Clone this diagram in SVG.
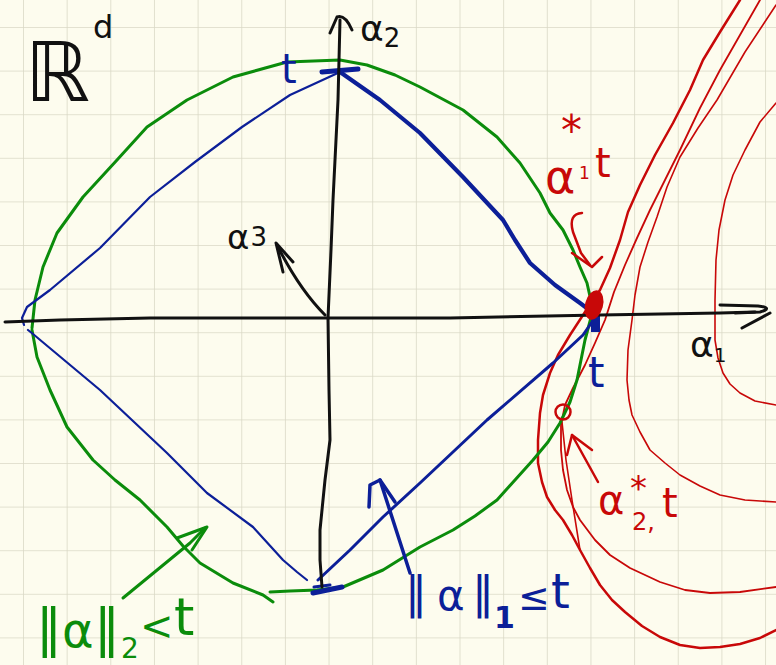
<svg xmlns="http://www.w3.org/2000/svg" width="776" height="665" viewBox="0 0 776 665">
<defs>
<pattern id="grid" x="23" y="27" width="43.65" height="43.6" patternUnits="userSpaceOnUse">
<path d="M0,0 V43.6 M0,0 H43.65" fill="none" stroke="#dad9c6" stroke-width="1.6"/>
</pattern>
<style>
.ink{fill:none;stroke-linecap:round;stroke-linejoin:round}
.k{stroke:#111}
.g{stroke:#0b8c0b}
.b{stroke:#0c1f98}
.r{stroke:#c80808}
.t{font-family:"DejaVu Sans","Liberation Sans",sans-serif}
.tk{fill:#111}.tg{fill:#0b8c0b}.tb{fill:#0c1f98}.tr{fill:#c80808}
</style>
</defs>
<rect width="776" height="665" fill="#fdfcee"/>
<rect width="776" height="665" fill="url(#grid)"/>

<g id="red-contours" class="ink r">
<polyline stroke-width="2.5" points="740,0 720,32 703,60 690,90 673,123 655,155 640,185 628,212 620,240 610,268 600,290 585,312 570,335 558,355 550,373 543,395 540,413 538,440 538,463 542,482 547,497 555,510 563,520 572,535 580,550 590,568 600,585 612,600 625,612 642,626 660,637 680,645 700,648 720,647 740,644 760,638 776,630"/>
<polyline stroke-width="1.8" points="760,0 740,35 720,70 700,108 680,150 665,180 650,210 637,238 625,265 614,292 605,320 595,343 585,365 573,388 565,405 561,425 561,450 563,470 567,490 573,507 580,520 595,540 610,555 630,568 660,582 685,590 710,593 740,592 776,587"/>
<polyline stroke-width="1.6" points="562,422 566,460 572,500 580,550"/>
<polyline stroke-width="1.6" points="776,5 745,52 717,100 698,128 680,157 667,187 657,217 648,242 640,267 635,295 632,320 628,350 627,380 629,400 632,415 640,432 650,450 665,463 680,475 700,486 720,495 745,500 776,502"/>
<polyline stroke-width="1.6" points="776,103 760,122 745,150 733,175 725,200 719,230 716,260 715,300 715,340 718,358 723,373 730,384 740,393 755,401 776,405"/>
</g>

<g id="green-l2-ball" class="ink g">
<polyline stroke-width="3" points="32,328 35,300 43,267 57,233 83,197 117,160 147,127 187,100 233,77 287,62 340,60 367,65 395,75 420,87 463,110 497,137 520,163 540,193 550,213 563,230 573,250 580,267 587,283 593,310 589,325 585,340 581,360 577,380 570,402 560,423 548,442 533,460 515,480 497,500 475,516 453,530 420,547 383,570 343,587 317,590 290,591 270,592"/>
<polyline stroke-width="3" points="273,602 263,595 233,583 200,563 183,546 167,527 140,500 115,480 93,460 67,427 50,390 37,357 32,330"/>
</g>

<g id="blue-l1-ball" class="ink b">
<polyline stroke-width="2.2" points="340,72 290,95 242,127 195,162 150,197 100,248 50,290 27,307 22,318 24,325"/>
<polyline stroke-width="4.2" points="340,72 380,100 420,133 463,177 503,220 515,240 530,263 555,285 580,303 592,312"/>
<polyline stroke-width="2.2" points="28,330 33,334 100,390 167,453 207,493 253,527 283,560 297,572 307,580"/>
<polyline stroke-width="3" points="318,580 350,550 383,517 420,483 487,420 553,363 583,335 592,322"/>
<path stroke-width="5" d="M322,72 L358,69"/>
<path stroke-width="5" d="M313,593 L342,587"/>
<path stroke-width="3" d="M314,587 L330,585"/>
<rect x="591" y="314" width="9" height="18" fill="#0c1f98" stroke="none"/>
</g>

<g id="axes" class="ink k">
<polyline stroke-width="3" points="5,322 60,320 150,318 250,318 330,318 450,318 600,315 720,313 755,312"/>
<path stroke-width="3" d="M720,305 L758,306 Q774,308 760,312 L735,313 M770,313 L742,328"/>
<polyline stroke-width="3" points="322,587 320,560 320,530 325,480 330,440 329,390 328,318 331,250 333,200 338,100 340,20"/>
<path stroke-width="3" d="M330,33 L337,17 Q345,14 352,30"/>
<path stroke-width="3" d="M325,315 Q300,290 278,247"/>
<path stroke-width="3" d="M283,272 L276,243 L293,262"/>
</g>

<g id="red-marks" class="ink r">
<ellipse cx="594" cy="305" rx="9" ry="15" transform="rotate(15 594 305)" fill="#c80808" stroke="none"/>
<circle cx="563" cy="412" r="7.5" stroke-width="2.5"/>
<path stroke-width="2.5" d="M582,213 Q568,214 573,232 L581,253 L590,265"/>
<path stroke-width="2.5" d="M572,253 L592,267 L602,257"/>
<path stroke-width="2.5" d="M598,482 L572,435"/>
<path stroke-width="2.5" d="M567,455 L572,435 L592,450"/>
</g>

<g id="arrows" class="ink">
<path class="g" stroke-width="3" d="M123,598 L190,543 L205,528"/>
<path class="g" stroke-width="3" d="M177,538 L207,527 L192,550"/>
<path class="b" stroke-width="3.5" d="M410,573 L380,480"/>
<path class="b" stroke-width="3.5" d="M369,507 L370,485 L380,480 L395,502"/>
</g>

<g id="labels" class="t">
<text class="tk"><tspan x="25" y="101" font-size="82">ℝ</tspan><tspan x="93" y="38" font-size="32">d</tspan></text>
<text x="360" y="41" font-size="36" class="tk">α<tspan font-size="26" dy="6">2</tspan></text>
<text x="690" y="357" font-size="36" class="tk">α<tspan font-size="20" dy="5">1</tspan></text>
<text x="227" y="249" font-size="34" class="tk">α<tspan font-size="26" dx="1" dy="-3">3</tspan></text>
<text x="281" y="83" font-size="40" class="tb">t</text>
<text x="588" y="387" font-size="42" class="tb">t</text>
<text class="tr"><tspan x="545" y="193" font-size="46">α</tspan><tspan x="561" y="145" font-size="42">*</tspan><tspan x="579" y="179" font-size="17">1</tspan><tspan x="595" y="177" font-size="40">t</tspan></text>
<text class="tr"><tspan x="598" y="514" font-size="40">α</tspan><tspan x="630" y="500" font-size="34">*</tspan><tspan x="632" y="530" font-size="24">2,</tspan><tspan x="662" y="517" font-size="40">t</tspan></text>
<text class="tg"><tspan x="36" y="645" font-size="52">‖</tspan><tspan x="62" y="647" font-size="48">α</tspan><tspan x="94" y="645" font-size="52">‖</tspan><tspan x="121" y="658" font-size="28">2</tspan><tspan x="140" y="640" font-size="40">&lt;</tspan><tspan x="174" y="635" font-size="52">t</tspan></text>
<text class="tb"><tspan x="405" y="608" font-size="44">‖</tspan><tspan x="437" y="610" font-size="42">α</tspan><tspan x="472" y="608" font-size="44">‖</tspan><tspan x="494" y="628" font-size="30" font-weight="bold">1</tspan><tspan x="518" y="610" font-size="38">≤</tspan><tspan x="551" y="608" font-size="48">t</tspan></text>
</g>
</svg>
